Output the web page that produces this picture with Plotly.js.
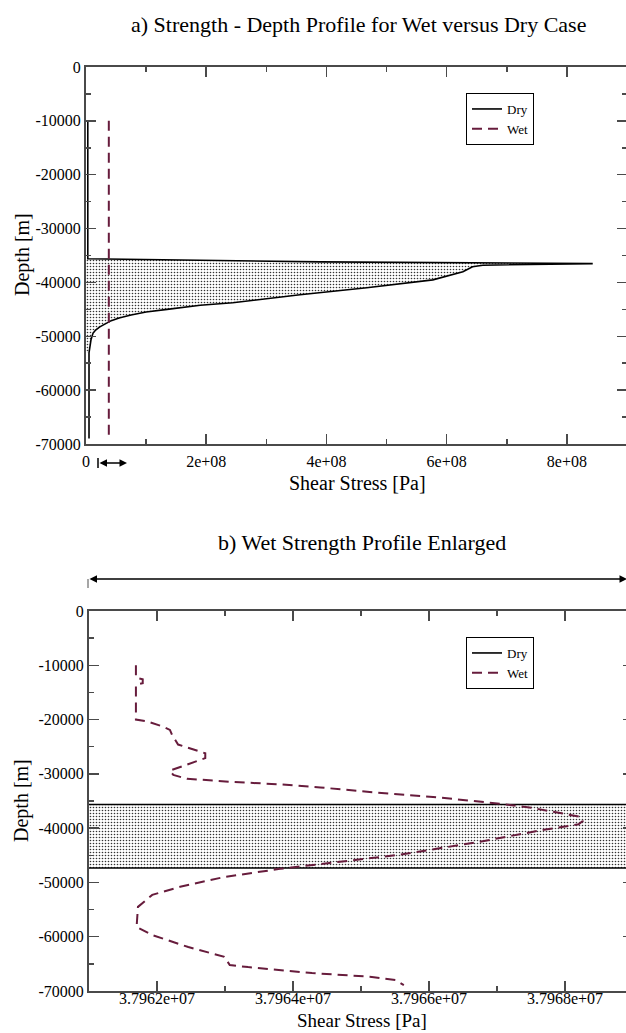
<!DOCTYPE html>
<html>
<head>
<meta charset="utf-8">
<script src="https://cdn.plot.ly/plotly-3.0.1.min.js"></script>
<style>
html,body{margin:0;padding:0;overflow:hidden;background:#fff;}
#chart{width:640px;height:1033px;}
</style>
</head>
<body>
<div id="chart"></div>
<script>
// ---------- data ----------
// Dry strength profile: shear stress [Pa] vs depth [m]
const dryStress = [3e6, 3e6, 3.9e8, 6.4e8, 8.43e8, 6.6e8, 6.43e8, 6.27e8, 5.77e8, 4.67e8, 3.56e8, 2.44e8, 1.9e8, 1.35e8, 1.0e8, 7.5e7, 5.5e7, 4.2e7, 3.2e7, 2.3e7, 1.6e7, 1.16e7, 8.3e6, 6e6, 5e6, 5e6];
const dryDepth  = [-10000, -35600, -36180, -36400, -36500, -36800, -37100, -38030, -39520, -41000, -42300, -43780, -44250, -45000, -45500, -46050, -46600, -47100, -47670, -48250, -48850, -49450, -50650, -51900, -53060, -69000];

// Wet strength profile
const wetStress = [37961690, 37961690, 37961790, 37961790, 37961690, 37961690, 37961850, 37962090, 37962190, 37962220,
                   37962310, 37962710, 37962710, 37962190, 37962240, 37962440, 37963120, 37963760, 37964400, 37965090,
                   37966060, 37967040, 37967530, 37968220, 37968260, 37968200, 37967690, 37966750, 37965570, 37964690,
                   37963810, 37962990, 37962340, 37961930, 37961720, 37961700, 37961930, 37962460, 37962990, 37963070,
                   37963340, 37964280, 37965160, 37965510, 37965630];
const wetDepth  = [-10000, -12300, -12600, -13300, -13600, -20000, -20300, -21300, -21900, -22800,
                   -24600, -26200, -27100, -29400, -30200, -30900, -31500, -31900, -32500, -33300,
                   -34250, -35500, -36300, -37900, -38700, -39300, -40300, -42500, -44900, -46200,
                   -47500, -49000, -50800, -52300, -54500, -58200, -59700, -61900, -63700, -65200,
                   -65600, -66700, -67400, -68000, -68900];

// tick labels
const depthTicks  = [0, -10000, -20000, -30000, -40000, -50000, -60000, -70000];
const depthLabels = ['0', '-10000', '-20000', '-30000', '-40000', '-50000', '-60000', '-70000'];
const stressTicksA  = [0, 2e8, 4e8, 6e8, 8e8];
const stressLabelsA = ['0', '2e+08', '4e+08', '6e+08', '8e+08'];
const stressTicksB  = [3.7962e7, 3.7964e7, 3.7966e7, 3.7968e7];
const stressLabelsB = ['3.7962e+07', '3.7964e+07', '3.7966e+07', '3.7968e+07'];

const titleA = 'a) Strength - Depth Profile for Wet versus Dry Case';
const titleB = 'b) Wet Strength Profile Enlarged';
const xTitle = 'Shear Stress [Pa]';
const yTitle = 'Depth [m]';
const seriesNames = ['Dry', 'Wet'];

// ---------- layout helpers ----------
const W = 640, H = 1033;
const px = v => v / W;
const py = v => 1 - v / H;
const FONT = 'Liberation Serif';
const AX = '#4a4a4a';
const WET = '#671c3c';

// fill polygon of the dry bulge (built from the dry arrays)
const iTop = 1, iBot = dryDepth.length - 2;
const fillX = [0].concat(dryStress.slice(iTop, iBot + 1), [0]);
const fillY = [dryDepth[iTop]].concat(dryDepth.slice(iTop, iBot + 1), [dryDepth[iBot]]);

const pattern = {shape: '.', size: 3, solidity: 0.22, fgcolor: '#333', bgcolor: '#fff', fillmode: 'replace'};

function traces(xa, ya, leg) {
  return [
    {x: fillX, y: fillY, xaxis: xa, yaxis: ya, type: 'scatter', mode: 'none', fill: 'toself',
     fillcolor: 'rgba(0,0,0,0)', fillpattern: pattern, showlegend: false, hoverinfo: 'skip'},
    {x: dryStress, y: dryDepth, xaxis: xa, yaxis: ya, type: 'scatter', mode: 'lines', name: seriesNames[0],
     line: {color: '#000', width: 1.6}, legend: leg},
    {x: wetStress, y: wetDepth, xaxis: xa, yaxis: ya, type: 'scatter', mode: 'lines', name: seriesNames[1],
     line: {color: WET, width: 2, dash: '10px,6px'}, legend: leg}
  ];
}

const data = traces('x', 'y', 'legend').concat(traces('x2', 'y2', 'legend2'));

function xAxis(domain, range, vals, labels, minorD, tick0, anchor, standoff) {
  return {
    domain: domain, range: range, anchor: anchor,
    tickmode: 'array', tickvals: vals, ticktext: labels,
    ticks: 'inside', ticklen: 10, tickwidth: 1.5, tickcolor: AX,
    showline: true, linecolor: AX, linewidth: 2, mirror: 'ticks',
    showgrid: false, zeroline: false,
    minor: {tickmode: 'linear', tick0: tick0, dtick: minorD, ticks: 'inside', ticklen: 5, tickwidth: 1.5, tickcolor: AX, showgrid: false},
    tickfont: {family: FONT, size: 16, color: '#000'},
    ticklabelstandoff: standoff
  };
}
function yAxis(domain, anchor) {
  return {
    domain: domain, range: [-70000, 0], anchor: anchor,
    tickmode: 'array', tickvals: depthTicks, ticktext: depthLabels,
    ticks: 'inside', ticklen: 10, tickwidth: 1.5, tickcolor: AX,
    showline: true, linecolor: AX, linewidth: 2, mirror: 'ticks',
    showgrid: false, zeroline: false,
    minor: {tickmode: 'linear', tick0: 0, dtick: 5000, ticks: 'inside', ticklen: 5, tickwidth: 1.5, tickcolor: AX, showgrid: false},
    tickfont: {family: FONT, size: 16, color: '#000'}
  };
}

function ann(text, x, y, size, angle) {
  return {text: text, xref: 'paper', yref: 'paper', x: px(x), y: py(y), xanchor: 'center', yanchor: 'middle',
          showarrow: false, textangle: angle || 0, font: {family: FONT, size: size, color: '#000'}};
}
function arrow(x0, x1, y) {
  return {text: '', xref: 'paper', yref: 'paper', x: px(x1), y: py(y), ax: x0 - x1, ay: 0,
          showarrow: true, arrowside: 'end+start', arrowhead: 2, startarrowhead: 2,
          arrowsize: 1, startarrowsize: 1, arrowwidth: 1.5, arrowcolor: '#000', standoff: 0, startstandoff: 0};
}

const legendStyle = (x, y) => ({x: px(x), y: py(y), xanchor: 'left', yanchor: 'top', bgcolor: '#fff',
  bordercolor: '#000', borderwidth: 1, font: {family: FONT, size: 13, color: '#000'}, tracegroupgap: 0});

const layout = {
  width: W, height: H,
  margin: {l: 0, r: 0, t: 0, b: 0},
  paper_bgcolor: '#fff', plot_bgcolor: '#fff',
  showlegend: true,
  xaxis:  xAxis([px(86), px(627)], [0, 9e8], stressTicksA, stressLabelsA, 1e8, 0, 'y', 2),
  yaxis:  yAxis([py(444), py(67)], 'x'),
  xaxis2: xAxis([px(89), px(633)], [3.7961e7, 3.7969e7], stressTicksB, stressLabelsB, 1000, 3.7961e7, 'y2', -8),
  yaxis2: yAxis([py(991), py(611)], 'x2'),
  legend: legendStyle(466, 93),
  legend2: legendStyle(466, 637),
  annotations: [
    ann(titleA, 358, 25, 22),
    ann(titleB, 362, 542, 22),
    ann(xTitle, 357, 483, 20),
    ann(xTitle, 362, 1020, 19),
    ann(yTitle, 23, 255, 20, -90),
    ann(yTitle, 21, 801, 20, -90),
    arrow(98, 127, 463),
    arrow(88, 627, 579)
  ],
  shapes: [
    {type: 'line', xref: 'paper', yref: 'paper', x0: px(98), x1: px(98), y0: py(458), y1: py(468), line: {color: '#000', width: 1.5}},
    {type: 'line', xref: 'paper', yref: 'paper', x0: px(88), x1: px(88), y0: py(579), y1: py(588), line: {color: '#888', width: 1.5}}
  ]
};

Plotly.newPlot('chart', data, layout, {displayModeBar: false, staticPlot: true});
</script>
</body>
</html>
